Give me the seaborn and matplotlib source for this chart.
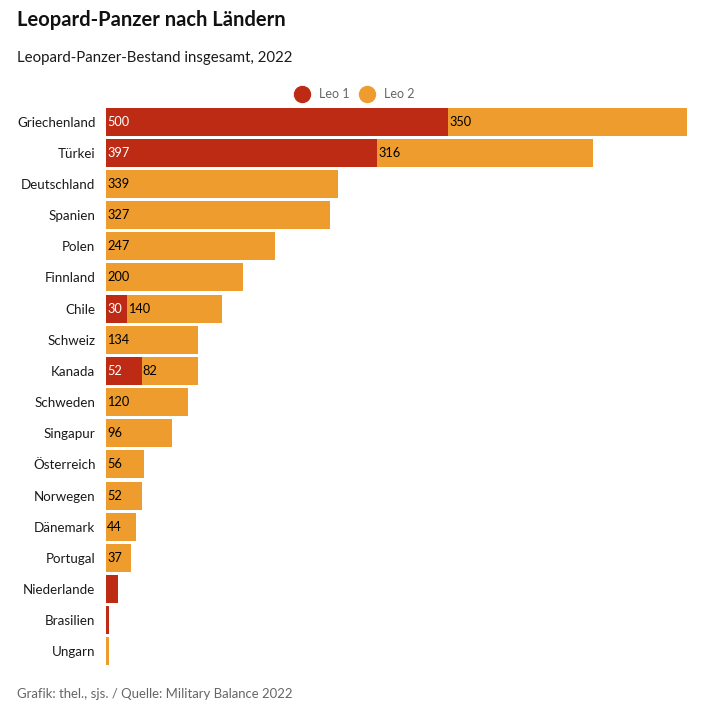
import matplotlib
matplotlib.use('Agg')
import matplotlib.pyplot as plt
import pandas as pd
import seaborn as sns
from matplotlib.lines import Line2D

countries = ['Griechenland', 'Türkei', 'Deutschland', 'Spanien', 'Polen', 'Finnland', 'Chile', 'Schweiz', 'Kanada',
             'Schweden', 'Singapur', 'Österreich', 'Norwegen', 'Dänemark', 'Portugal', 'Niederlande', 'Brasilien', 'Ungarn']
leo1 = [500, 397, 0, 0, 0, 0, 30, 0, 52, 0, 0, 0, 0, 0, 0, 17, 4, 0]
leo2 = [350, 316, 339, 327, 247, 200, 140, 134, 82, 120, 96, 56, 52, 44, 37, 0, 0, 4]
# kleine Balken bekommen kein Label
min_label = 20

RED = '#bd2b15'
ORANGE = '#ee9c2d'

df = pd.DataFrame({'land': countries, 'leo1': leo1, 'leo2': leo2})
df['gesamt'] = df['leo1'] + df['leo2']

sns.set_style('white')
plt.rcParams['font.family'] = ['Lato', 'DejaVu Sans']

W = H = 714
fig = plt.figure(figsize=(7.14, 7.14), dpi=100)
ax = fig.add_axes([106 / W, 1 - 667 / H, 581 / W, 561 / H])

# Gesamt zuerst, Leo 1 liegt darueber
sns.barplot(data=df, y='land', x='gesamt', color=ORANGE, width=0.9, saturation=1, linewidth=0, ax=ax)
sns.barplot(data=df, y='land', x='leo1', color=RED, width=0.9, saturation=1, linewidth=0, ax=ax)

ax.set_xlim(0, 850)
ax.set_ylim(17.5, -0.5)
ax.set_xlabel('')
ax.set_ylabel('')
ax.xaxis.set_visible(False)
sns.despine(ax=ax, left=True, bottom=True)
ax.tick_params(axis='y', length=0, pad=7.6, labelsize=9.6, labelcolor='#1a1a1a')

pad = 0.9
for i, row in df.iterrows():
    if row['leo1'] >= min_label:
        ax.annotate(str(row['leo1']), (0, i), xytext=(pad, 0), textcoords='offset points',
                    va='center', ha='left', fontsize=9.2, color='white')
    if row['leo2'] >= min_label:
        ax.annotate(str(row['leo2']), (row['leo1'], i), xytext=(pad, 0), textcoords='offset points',
                    va='center', ha='left', fontsize=9.2, color='black')

fig.text(17 / W, 1 - 20 / H, 'Leopard-Panzer nach Ländern', fontsize=14.5, fontweight='bold', color='#111111', va='center')
fig.text(17 / W, 1 - 58 / H, 'Leopard-Panzer-Bestand insgesamt, 2022', fontsize=10.85, color='#1a1a1a', va='center')
fig.text(17 / W, 1 - 694 / H, 'Grafik: thel., sjs. / Quelle: Military Balance 2022', fontsize=9.45, color='#666666', va='center')

handles = [Line2D([], [], marker='o', linestyle='', markersize=11.5, color=RED, label='Leo 1'),
           Line2D([], [], marker='o', linestyle='', markersize=11.5, color=ORANGE, label='Leo 2')]
fig.legend(handles=handles, loc='center', bbox_to_anchor=(352 / W, 1 - 94 / H), ncol=2, frameon=False,
           fontsize=9, labelcolor='#666666', handletextpad=0.35, columnspacing=0.35, borderpad=0)

fig.savefig('out.png', dpi=100)
